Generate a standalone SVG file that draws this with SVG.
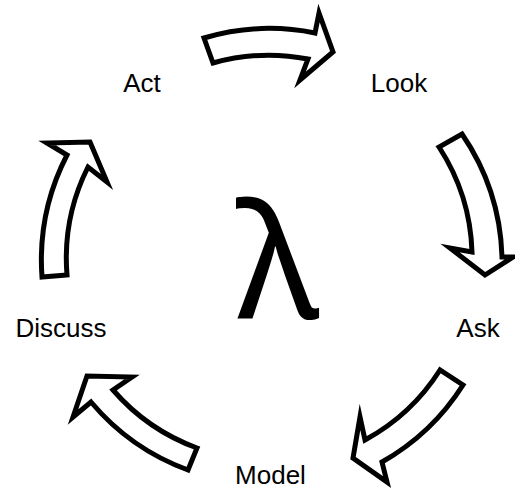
<svg xmlns="http://www.w3.org/2000/svg" width="515" height="490" viewBox="0 0 515 490">
<style>
.arrow{fill:#fff;stroke:#000;stroke-width:5;stroke-linejoin:miter;stroke-miterlimit:10}
.lbl{font-family:"Liberation Sans",Arial,sans-serif;font-size:26px;fill:#000;text-anchor:middle}
.lam{font-family:"Noto Sans","Open Sans",sans-serif;font-size:160px;fill:#000;text-anchor:middle}
</style>
<rect width="515" height="490" fill="#fff"/>
<g id="connectors">
<path class="arrow" d="M204,38 A230,230 0 0 1 315,33 L319,13 L333,52 L300,80 L308,59 A204,204 0 0 0 213,63 Z"/>
<path class="arrow" d="M462,134 A230,230 0 0 1 502,257 L513,257 L485,275 L450,248 L472,252 A204,204 0 0 0 439,147 Z"/>
<path class="arrow" d="M463,385 A230,230 0 0 1 382,462 L387,482 L353,458 L360,417 L365,440 A204,204 0 0 0 440,370 Z"/>
<path class="arrow" d="M188,470 A230,230 0 0 1 91,402 L73,417 L87,376 L132,377 L113,390 A204,204 0 0 0 197,448 Z"/>
<path class="arrow" d="M42,277 A230,230 0 0 1 67,155 L47,143 L90,142 L107,182 L88,167 A204,204 0 0 0 67,275 Z"/>
</g>
<g id="act"><text class="lbl" x="142" y="92">Act</text></g>
<g id="look"><text class="lbl" x="399" y="92">Look</text></g>
<g id="ask"><text class="lbl" x="478" y="337">Ask</text></g>
<g id="model"><text class="lbl" x="270.5" y="484">Model</text></g>
<g id="discuss"><text class="lbl" x="61" y="337">Discuss</text></g>
<g id="lambda"><text class="lam" x="277.5" y="318">λ</text></g>
</svg>
